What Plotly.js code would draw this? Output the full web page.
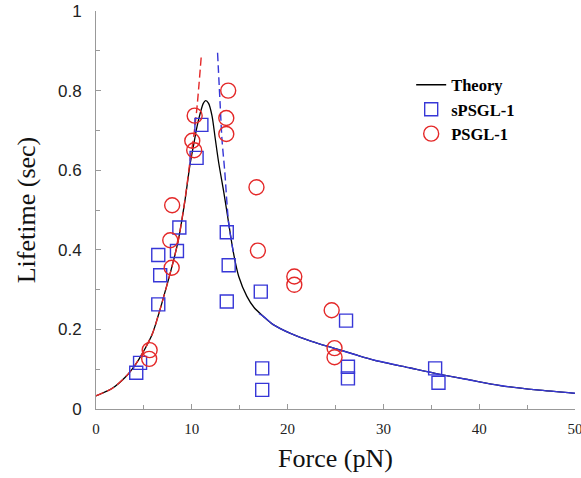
<!DOCTYPE html>
<html>
<head>
<meta charset="utf-8">
<script src="https://cdn.plot.ly/plotly-3.0.1.min.js"></script>
<style>html,body{margin:0;padding:0;background:#fff;}#chart{width:581px;height:478px;}</style>
</head>
<body>
<div id="chart"></div>
<script>
// Theory (full model)
const theoryX = [0, 1.7, 3.1, 4.1, 4.8, 5.9, 6.5, 6.9, 7.9, 8.6, 9.3, 9.8, 10.2, 10.55, 10.9, 11.2, 11.45, 11.75, 12.1, 12.45, 12.8, 13.35, 13.85, 14.35, 14.9, 15.75, 16.5, 17.5, 18.5, 20.3, 22.5, 24.8, 27, 29, 32.8, 35.9, 39, 42.2, 46, 50];
const theoryY = [0.033, 0.052, 0.081, 0.111, 0.138, 0.19, 0.235, 0.268, 0.355, 0.425, 0.526, 0.612, 0.665, 0.71, 0.745, 0.768, 0.775, 0.768, 0.738, 0.679, 0.62, 0.543, 0.467, 0.392, 0.333, 0.283, 0.255, 0.232, 0.212, 0.19, 0.17, 0.153, 0.137, 0.123, 0.103, 0.087, 0.073, 0.059, 0.048, 0.0395];
// Catch branch (red dashed)
const catchX = [0, 1.7, 3.1, 4.1, 4.8, 5.9, 6.5, 6.9, 7.9, 8.6, 9.3, 9.8, 10.2, 10.55, 11.0];
const catchY = [0.033, 0.052, 0.081, 0.111, 0.138, 0.19, 0.235, 0.268, 0.355, 0.425, 0.528, 0.62, 0.685, 0.76, 0.89];
// Slip branch (blue dashed near peak)
const slipX = [12.69, 12.97, 13.15, 13.43, 13.85, 14.35];
const slipY = [0.895, 0.76, 0.677, 0.6, 0.467, 0.392];
// Slip branch tail (blue)
const slipTailX = [17.0, 17.5, 18.5, 20.3, 22.5, 24.8, 27, 29, 32.8, 35.9, 39, 42.2, 46, 50];
const slipTailY = [0.240, 0.232, 0.212, 0.19, 0.17, 0.153, 0.137, 0.123, 0.103, 0.087, 0.073, 0.059, 0.048, 0.0395];
// sPSGL-1 data
const sX = [4.2, 4.6, 6.5, 6.7, 6.5, 8.45, 8.7, 10.5, 11.0, 13.65, 13.85, 13.65, 17.2, 17.35, 17.35, 26.1, 26.3, 26.3, 35.4, 35.75];
const sY = [0.091, 0.116, 0.263, 0.336, 0.387, 0.397, 0.456, 0.631, 0.714, 0.444, 0.361, 0.270, 0.295, 0.102, 0.048, 0.222, 0.106, 0.077, 0.102, 0.066];
// PSGL-1 data
const pX = [5.6, 5.55, 7.95, 7.75, 7.9, 10.05, 10.25, 10.3, 13.6, 13.6, 13.8, 16.75, 16.9, 20.7, 20.7, 24.6, 24.9, 24.9];
const pY = [0.148, 0.126, 0.512, 0.424, 0.355, 0.674, 0.650, 0.737, 0.691, 0.731, 0.800, 0.557, 0.398, 0.333, 0.312, 0.248, 0.153, 0.130];

const blue = 'rgb(55,55,215)';
const red = 'rgb(228,40,40)';

const traces = [
  {x: theoryX, y: theoryY, mode: 'lines', name: 'Theory', line: {color: '#000', width: 1.3, shape: 'spline', smoothing: 0.8}},
  {x: catchX, y: catchY, mode: 'lines', showlegend: false, line: {color: red, width: 1.4, dash: '8px,4px', shape: 'spline', smoothing: 0.8}},
  {x: slipX, y: slipY, mode: 'lines', showlegend: false, line: {color: blue, width: 1.4, dash: '8px,4px', shape: 'spline', smoothing: 0.8}},
  {x: slipTailX, y: slipTailY, mode: 'lines', showlegend: false, line: {color: blue, width: 1.4, shape: 'spline', smoothing: 0.8}},
  {x: sX, y: sY, mode: 'markers', name: 'sPSGL-1', marker: {symbol: 'square-open', size: 13, color: blue, line: {width: 1.4, color: blue}}},
  {x: pX, y: pY, mode: 'markers', name: 'PSGL-1', marker: {symbol: 'circle-open', size: 15, color: red, line: {width: 1.4, color: red}}}
];

const layout = {
  width: 581, height: 478,
  margin: {l: 96, r: 6, t: 11, b: 69, pad: 0},
  paper_bgcolor: '#fff', plot_bgcolor: '#fff',
  showlegend: true,
  legend: {x: 0.658, y: 0.858, xanchor: 'left', yanchor: 'top', bgcolor: 'rgba(0,0,0,0)',
    font: {family: '"Liberation Serif", "Times New Roman", serif', size: 16.5, color: '#000', weight: 'bold'},
    tracegroupgap: 0, itemwidth: 30},
  xaxis: {
    range: [0, 50], autorange: false, dtick: 10, tick0: 0,
    showgrid: false, zeroline: false, showline: true, linecolor: '#999', linewidth: 1,
    ticks: 'inside', ticklen: 5, tickcolor: '#999',
    minor: {dtick: 5, ticks: 'inside', ticklen: 4, tickcolor: '#999'},
    tickfont: {family: '"Liberation Serif", "Times New Roman", serif', size: 15, color: '#222'},
    ticklabelstandoff: 6, ticklabeloverflow: 'allow',
    title: {text: 'Force (pN)', font: {family: '"Liberation Serif", "Times New Roman", serif', size: 26, color: '#111'}, standoff: 12}
  },
  yaxis: {
    range: [0, 1], autorange: false, dtick: 0.2, tick0: 0,
    showgrid: false, zeroline: false, showline: true, linecolor: '#999', linewidth: 1,
    ticks: 'inside', ticklen: 5, tickcolor: '#999',
    minor: {dtick: 0.1, ticks: 'inside', ticklen: 4, tickcolor: '#999'},
    tickfont: {family: '"Liberation Sans", Arial, sans-serif', size: 17, color: '#222'},
    ticklabelstandoff: 10,
    title: {text: 'Lifetime (sec)', font: {family: '"Liberation Serif", "Times New Roman", serif', size: 26, color: '#111'}, standoff: 14}
  }
};

Plotly.newPlot('chart', traces, layout, {staticPlot: true, displayModeBar: false});
</script>
</body>
</html>
